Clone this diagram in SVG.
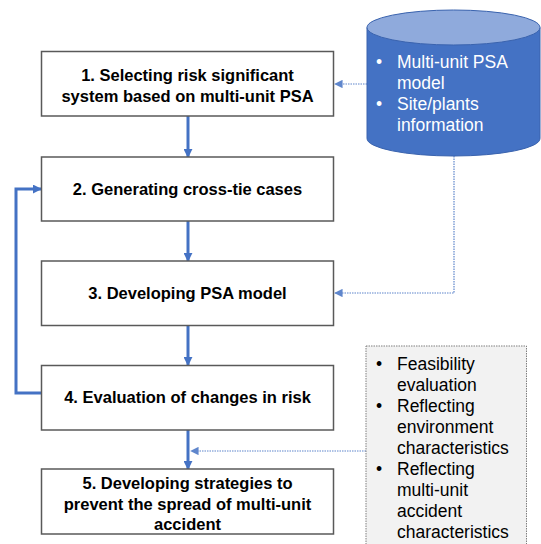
<svg xmlns="http://www.w3.org/2000/svg" width="541" height="544" viewBox="0 0 541 544">
<defs>
<style>
.box{fill:#fff;stroke:#595959;stroke-width:1.5}
.bt{font-family:"Liberation Sans",Arial,sans-serif;font-weight:bold;font-size:16.5px;fill:#000;text-anchor:middle}
.flow{fill:none;stroke:#4472C4;stroke-width:3}
.dot{fill:none;stroke:#4472C4;stroke-width:1.2;stroke-dasharray:1.5 1;opacity:0.85}
.wt{font-family:"Liberation Sans",Arial,sans-serif;font-size:17.5px;fill:#fff}
.gt{font-family:"Liberation Sans",Arial,sans-serif;font-size:17.5px;fill:#000}
</style>
<marker id="ah" viewBox="0 0 10 10" refX="9" refY="5" markerWidth="3" markerHeight="3" orient="auto" markerUnits="strokeWidth">
<path d="M0,0 L10,5 L0,10 z" fill="#4472C4"/>
</marker>
<marker id="ahs" viewBox="0 0 10 10" refX="9" refY="5" markerWidth="7" markerHeight="7" orient="auto" markerUnits="strokeWidth">
<path d="M0,0 L10,5 L0,10 z" fill="#4472C4"/>
</marker>
</defs>
<rect width="541" height="544" fill="#fff"/>

<g id="connectors">
<line class="flow" x1="188" y1="116" x2="188" y2="157" marker-end="url(#ah)"/>
<line class="flow" x1="188" y1="221" x2="188" y2="261" marker-end="url(#ah)"/>
<line class="flow" x1="188" y1="325" x2="188" y2="365" marker-end="url(#ah)"/>
<line class="flow" x1="188" y1="430" x2="188" y2="469" marker-end="url(#ah)"/>
<polyline class="flow" points="41,393 16,393 16,189 41,189" marker-end="url(#ah)"/>
<line class="dot" x1="367" y1="84" x2="335" y2="84" marker-end="url(#ahs)"/>
<polyline class="dot" points="454,156 454,293 335,293" marker-end="url(#ahs)"/>
<line class="dot" x1="366" y1="451" x2="191" y2="451" marker-end="url(#ahs)"/>
</g>

<g id="n1">
<rect class="box" x="41.5" y="51.5" width="292" height="64.5"/>
<text class="bt" x="187.5" y="81">1. Selecting risk significant</text>
<text class="bt" x="187.5" y="102">system based on multi-unit PSA</text>
</g>
<g id="n2">
<rect class="box" x="41.5" y="157" width="292" height="64"/>
<text class="bt" x="187.5" y="195">2. Generating cross-tie cases</text>
</g>
<g id="n3">
<rect class="box" x="41.5" y="261" width="292" height="64.5"/>
<text class="bt" x="187.5" y="299">3. Developing PSA model</text>
</g>
<g id="n4">
<rect class="box" x="41.5" y="365.5" width="292" height="64.5"/>
<text class="bt" x="187.5" y="403">4. Evaluation of changes in risk</text>
</g>
<g id="n5">
<rect class="box" x="41.5" y="469" width="292" height="65"/>
<text class="bt" x="187.5" y="489">5. Developing strategies to</text>
<text class="bt" x="187.5" y="509.5">prevent the spread of multi-unit</text>
<text class="bt" x="187.5" y="530">accident</text>
</g>

<g id="db">
<path d="M367,27.5 L367,138.5 A86.5,17.5 0 0 0 540,138.5 L540,27.5 Z" fill="#4472C4" stroke="#3A63AE" stroke-width="1"/>
<ellipse cx="453.5" cy="27.5" rx="86.5" ry="17.5" fill="#8FAADC" stroke="#3A63AE" stroke-width="1"/>
<text class="wt" x="376" y="68">•</text>
<text class="wt" x="397" y="68">Multi-unit PSA</text>
<text class="wt" x="397" y="89">model</text>
<text class="wt" x="376" y="110">•</text>
<text class="wt" x="397" y="110">Site/plants</text>
<text class="wt" x="397" y="131">information</text>
</g>

<g id="notes">
<rect x="366" y="346" width="160.5" height="200" fill="#F2F2F2" stroke="#7F7F7F" stroke-width="1" stroke-dasharray="1.5 1"/>
<text class="gt" x="376" y="370">•</text>
<text class="gt" x="397" y="370">Feasibility</text>
<text class="gt" x="397" y="391">evaluation</text>
<text class="gt" x="376" y="412">•</text>
<text class="gt" x="397" y="412">Reflecting</text>
<text class="gt" x="397" y="433">environment</text>
<text class="gt" x="397" y="454">characteristics</text>
<text class="gt" x="376" y="475">•</text>
<text class="gt" x="397" y="475">Reflecting</text>
<text class="gt" x="397" y="496">multi-unit</text>
<text class="gt" x="397" y="517">accident</text>
<text class="gt" x="397" y="538">characteristics</text>
</g>
</svg>
